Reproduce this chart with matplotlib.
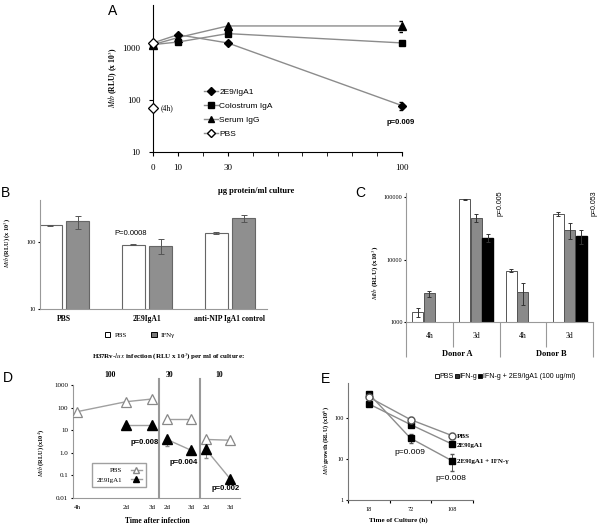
import numpy as np
import matplotlib.pyplot as plt
from matplotlib.lines import Line2D
from matplotlib.patches import Patch

plt.rcParams['font.family'] = ['Liberation Serif', 'DejaVu Serif']
plt.rcParams['mathtext.fontset'] = 'stix'

W, H = 600, 526
SANS = ['Liberation Sans', 'DejaVu Sans']
GRAY = '#8c8c8c'

# ---- data ----
# A: dose response
a_x = [0, 10, 30, 100]
a_2e9 = [1250, 1800, 1250, 78]
a_colo = [1160, 1300, 1890, 1250]
a_serum = [1160, 1580, 2650, 2650]
a_2e9_err = 15
a_serum_err = 600
a_pbs = 1250
a_pbs_4h = 70

# B
b_groups = ['PBS', '2E9IgA1', 'anti-NIP IgA1 control']
b_pbs = [177, 91, 136]
b_pbs_err = [3, 2, 6]
b_ifn = [204, 88, 228]
b_ifn_err = [45, 22, 30]

# C
c_clusters = ['4h', '3d', '4h', '3d']
c_donors = ['Donor A', 'Donor B']
c_pbs = [1440, 92000, 6630, 53000]
c_pbs_err = [220, 1500, 300, 4000]
c_ifn = [2860, 47000, 3040, 30000]
c_ifn_err = [320, 7000, 1200, 8500]
c_ifn_2e9 = [np.nan, 22300, np.nan, 24000]
c_ifn_2e9_err = [0, 3500, 0, 6000]
c_pvals = ['p=0.005', 'p=0.053']

# D
d_labels = ['4h', '2d', '3d', '2d', '3d', '2d', '3d']
d_doses = ['100', '30', '10']
d_pbs = [66, 182, 240, 30, 30, 3.9, 3.6]
d_2e9 = [np.nan, 16.8, 16.8, 3.9, 1.3, 1.4, 0.072]
d_2e9_err_lo = [0, 0, 0, 1.9, 0, 0.84, 0]
d_pvals = ['p=0.008', 'p=0.004', 'p=0.002']

# E
e_times = ['18', '72', '108']
e_pbs = [320, 91, 37]
e_pbs_err = [0, 12, 7]
e_2e9 = [220, 69, 23]
e_2e9_ifn = [390, 32, 9]
e_2e9_ifn_err = [0, 8, 4]

fig = plt.figure(figsize=(6, 5.26), dpi=100)


def box(x0, y0, x1, y1):
    ax = fig.add_axes([x0 / W, 1 - y1 / H, (x1 - x0) / W, (y1 - y0) / H])
    ax.spines['top'].set_visible(False)
    ax.spines['right'].set_visible(False)
    ax.set_yscale('log')
    ax.yaxis.set_minor_locator(plt.NullLocator())
    return ax


def ft(x, y, s, **kw):
    kw.setdefault('ha', 'center')
    kw.setdefault('va', 'center')
    return fig.text(x / W, 1 - y / H, s, **kw)


def ylab(x, y, s, size=5.5):
    ft(x, y, s, rotation=90, fontsize=size, fontweight='bold')


# ---------------- A ----------------
axA = box(153, 5, 402, 152)
axA.set_xlim(0, 100)
axA.set_ylim(10, 6700)
mk = dict(color=GRAY, lw=1, mec='k', mfc='k', clip_on=False, zorder=3)
axA.plot(a_x, a_serum, marker='^', ms=6, **mk)
axA.plot(a_x, a_colo, marker='s', ms=5, **mk)
axA.plot(a_x, a_2e9, marker='D', ms=4.5, **mk)
axA.errorbar([a_x[-1]], [a_2e9[-1]], yerr=a_2e9_err, fmt='none', ecolor='k', capsize=2, lw=0.8)
axA.errorbar([a_x[-1]], [a_serum[-1]], yerr=a_serum_err, fmt='none', ecolor='k', capsize=2, lw=0.8)
axA.plot([0, 0], [a_pbs, a_pbs_4h], ls='none', marker='D', ms=5, mfc='white', mec='k',
         mew=0.9, clip_on=False, zorder=5)
axA.set_xticks(a_x)
axA.set_xticks([20, 40, 50, 60, 70, 80, 90], minor=True)
axA.set_yticks([10, 100, 1000], ['10', '100', '1000'])
axA.tick_params(labelsize=6.5, length=3, pad=6)
axA.tick_params(which='minor', length=3)
ft(161, 108, '(4h)', fontsize=5.5, ha='left')
ft(401, 123, 'p=0.009', fontsize=5.5, fontweight='bold', family=SANS)
ft(113, 11, 'A', fontsize=10, family=SANS)
ylab(113, 78, r'$\mathit{Mtb}$ (RLU) (x 10$^3$)')
handles = [Line2D([], [], color=GRAY, lw=1, marker='D', ms=4, mfc='k', mec='k'),
           Line2D([], [], color=GRAY, lw=1, marker='s', ms=4.5, mfc='k', mec='k'),
           Line2D([], [], color=GRAY, lw=1, marker='^', ms=5, mfc='k', mec='k'),
           Line2D([], [], color=GRAY, lw=1, marker='D', ms=4, mfc='white', mec='k')]
fig.legend(handles, ['2E9/IgA1', 'Colostrum IgA', 'Serum IgG', 'PBS'],
           loc='upper left', bbox_to_anchor=(200 / W, 1 - 84 / H), frameon=False,
           prop={'family': SANS, 'size': 6}, handlelength=1.6, handletextpad=0.2,
           labelspacing=0.75, borderpad=0)
ft(256, 191, u'\u00b5g protein/ml culture', fontsize=6, fontweight='bold')

# ---------------- B ----------------
axB = box(40, 200, 267, 309)
axB.set_xlim(-0.289, 2.446)
axB.set_ylim(10, 425)
bi = np.arange(len(b_groups))
ek = dict(ecolor='#555555', capsize=2, elinewidth=0.7, capthick=0.7)
axB.bar(bi - 0.163, b_pbs, 0.277, color='white', edgecolor='#666666', lw=0.8,
        yerr=b_pbs_err, error_kw=ek)
axB.bar(bi + 0.163, b_ifn, 0.277, color='#8f8f8f', edgecolor='#666666', lw=0.8,
        yerr=b_ifn_err, error_kw=ek)
axB.set_xticks(bi, b_groups, fontweight='bold', fontsize=5.5)
axB.set_yticks([10, 100], ['10', '100'])
axB.tick_params(axis='y', labelsize=4.5, length=1.5, pad=1.5)
axB.tick_params(axis='x', length=0, pad=4)
for s in ['left', 'bottom']:
    axB.spines[s].set_color('#999999')
ft(131, 233, 'P=0.0008', fontsize=5.5, family=SANS)
ft(5, 193, 'B', fontsize=10, family=SANS)
ylab(8, 243, r'$\mathit{Mtb}$ (RLU) (x 10$^3$)', size=4.5)
fig.legend([Patch(fc='white', ec='k', lw=0.7), Patch(fc='#777777', ec='k', lw=0.7)],
           ['PBS', u'IFN\u03b3'], ncol=2, loc='center', bbox_to_anchor=(140 / W, 1 - 335 / H),
           frameon=False, prop={'size': 5}, handlelength=0.8, handleheight=0.8,
           handletextpad=0.6, columnspacing=3.5)

# ---------------- C ----------------
axC = box(406, 193, 593, 322)
axC.set_xlim(-0.5, 3.5)
axC.set_ylim(1000, 1.16e5)
ci = np.arange(len(c_clusters))
ekc = dict(ecolor='#333333', capsize=1.5, elinewidth=0.7, capthick=0.7)
axC.bar(ci - 0.245, c_pbs, 0.234, color='white', edgecolor='#555555', lw=0.7,
        yerr=c_pbs_err, error_kw=ekc)
axC.bar(ci, c_ifn, 0.234, color='#8a8a8a', edgecolor='#555555', lw=0.7,
        yerr=c_ifn_err, error_kw=ekc)
ok = ~np.isnan(np.array(c_ifn_2e9))
axC.bar(ci[ok] + 0.245, np.array(c_ifn_2e9)[ok], 0.234, color='black', edgecolor='black',
        yerr=np.array(c_ifn_2e9_err)[ok], error_kw=ekc)
axC.set_xticks([])
axC.set_yticks([1000, 10000, 100000], ['1000', '10000', '100000'])
axC.tick_params(axis='y', labelsize=4.5, length=1.5, pad=1)
for s in ['left', 'bottom']:
    axC.spines[s].set_color('#999999')
tr = axC.get_xaxis_transform()
axC.vlines([-0.5, 1.5, 3.5], -0.27, 0, transform=tr, color='#999999', lw=0.8, clip_on=False)
axC.vlines([0.5, 2.5], -0.19, 0, transform=tr, color='#999999', lw=0.8, clip_on=False)
for i, lab in enumerate(c_clusters):
    axC.text(ci[i], -0.11, lab, transform=tr, ha='center', va='center', fontsize=5.5)
for j, lab in enumerate(c_donors):
    axC.text(0.5 + 2 * j + 0.1, -0.25, lab, transform=tr, ha='center', va='center',
             fontsize=6, fontweight='bold')
for j, p in enumerate(c_pvals):
    axC.text(1 + 2 * j + 0.52, 1.02, p, transform=tr, rotation=90, ha='center', va='top',
             fontsize=5, family=SANS)
ft(360, 193, 'C', fontsize=10, family=SANS)
ylab(376, 273, r'$\mathit{Mtb}$ (RLU) (x10$^3$)', size=5)

# ---------------- D ----------------
axD = box(73, 385, 240, 498)
d_pos = np.array([77, 126, 152, 167, 191, 206, 230]) - 73
axD.set_xlim(0, 167)
axD.set_ylim(0.01, 1000)
segs = [(0, 3), (3, 5), (5, 7)]
for a, b in segs:
    axD.plot(d_pos[a:b], d_pbs[a:b], color='#a0a0a0', lw=1, marker='^', ms=6.5,
             mfc='white', mec='#888888', mew=0.9, zorder=3)
    axD.plot(d_pos[a:b], d_2e9[a:b], color='#a0a0a0', lw=1, marker='^', ms=6.5,
             mfc='black', mec='black', zorder=3)
lo = np.array(d_2e9_err_lo)
axD.errorbar(d_pos[lo > 0], np.array(d_2e9)[lo > 0], yerr=[lo[lo > 0], np.zeros((lo > 0).sum())],
             fmt='none', ecolor='#888888', capsize=1.5, lw=0.7)
for xv in [86, 127]:
    axD.axvline(xv, ymin=0, ymax=1.05, color='#999999', lw=1.5, clip_on=False)
axD.set_xticks(d_pos, d_labels)
axD.set_yticks([0.01, 0.1, 1, 10, 100, 1000], ['0.01', '0.1', '1.0', '10', '100', '1000'])
axD.tick_params(labelsize=5, length=1.5, pad=2)
axD.tick_params(axis='x', length=0, pad=5)
for s in ['left', 'bottom']:
    axD.spines[s].set_color('#999999')
for xv, lab in zip([110, 170, 219], d_doses):
    ft(xv, 375, lab, fontsize=5.5, fontweight='bold')
ft(168, 357, r'H37Rv-$\mathit{lux}$ infection (RLU x 10$^3$) per ml of culture:',
   fontsize=5, fontweight='bold')
for (xv, yv), p in zip([(145, 442), (184, 463), (226, 488)], d_pvals):
    ft(xv, yv, p, fontsize=5.5, fontweight='bold', family=SANS)
fig.legend([Line2D([], [], color='#a0a0a0', lw=1, marker='^', ms=5, mfc='white', mec='#888888'),
            Line2D([], [], color='#a0a0a0', lw=1, marker='^', ms=5, mfc='black', mec='black')],
           ['PBS', '2E9IgA1'], loc='upper left', bbox_to_anchor=(89 / W, 1 - 460 / H),
           markerfirst=False, prop={'size': 5}, fancybox=False, edgecolor='#888888',
           handlelength=1.6, labelspacing=0.5, borderpad=0.6, handletextpad=1.2)
ft(157, 521, 'Time after infection', fontsize=5.5, fontweight='bold')
ft(8, 378, 'D', fontsize=10, family=SANS)
ylab(42, 453, r'$\mathit{Mtb}$ (RLU) (x10$^4$)', size=4.5)

# ---------------- E ----------------
axE = box(348, 383, 473, 500)
axE.set_xlim(0, 3)
axE.set_ylim(1, 710)
ex = np.arange(len(e_times)) + 0.5
axE.plot(ex, e_2e9_ifn, color=GRAY, lw=1, marker='s', ms=5, mfc='black', mec='black', zorder=3)
axE.plot(ex, e_2e9, color=GRAY, lw=1, marker='s', ms=5, mfc='black', mec='black', zorder=3)
axE.plot(ex, e_pbs, color=GRAY, lw=1, marker='o', ms=5, mfc='white', mec='#555555', zorder=4)
axE.errorbar(ex, e_pbs, yerr=e_pbs_err, fmt='none', ecolor='#555555', capsize=1.5, lw=0.7)
axE.errorbar(ex, e_2e9_ifn, yerr=e_2e9_ifn_err, fmt='none', ecolor='#555555', capsize=1.5, lw=0.7)
axE.set_xticks([0, 1, 2, 3], ['', '', '', ''])
axE.set_xticks(ex, e_times, minor=True)
axE.tick_params(axis='x', which='major', length=2)
axE.tick_params(axis='x', which='minor', length=0, labelsize=4.5, pad=5)
axE.set_yticks([1, 10, 100], ['1', '10', '100'])
axE.tick_params(axis='y', labelsize=4.5, length=1.5, pad=1.5)
for s in ['left', 'bottom']:
    axE.spines[s].set_color('#777777')
ft(457, 436, 'PBS', fontsize=5, fontweight='bold', ha='left')
ft(457, 445, '2E9IgA1', fontsize=5, fontweight='bold', ha='left')
ft(457, 461, u'2E9IgA1 + IFN-\u03b3', fontsize=5, fontweight='bold', ha='left')
ft(410, 453, 'p=0.009', fontsize=6, family=SANS)
ft(451, 478, 'p=0.008', fontsize=6, family=SANS)
fig.legend([Patch(fc='white', ec='k', lw=0.6), Patch(fc='#333333', ec='k', lw=0.6),
            Patch(fc='black', ec='k', lw=0.6)],
           ['PBS', 'IFN-g', 'IFN-g + 2E9/IgA1 (100 ug/ml)'], ncol=3, loc='center',
           bbox_to_anchor=(505 / W, 1 - 377 / H), frameon=False,
           prop={'family': SANS, 'size': 5}, handlelength=0.6, handleheight=0.6,
           handletextpad=0.1, columnspacing=0.1, borderpad=0)
ft(398, 520, 'Time of Culture (h)', fontsize=5, fontweight='bold')
ft(326, 379, 'E', fontsize=10, family=SANS)
ylab(327, 440, r'$\mathit{Mtb}$ growth (RLU) (x10$^6$)', size=4.5)

fig.savefig('out.png', dpi=100)
